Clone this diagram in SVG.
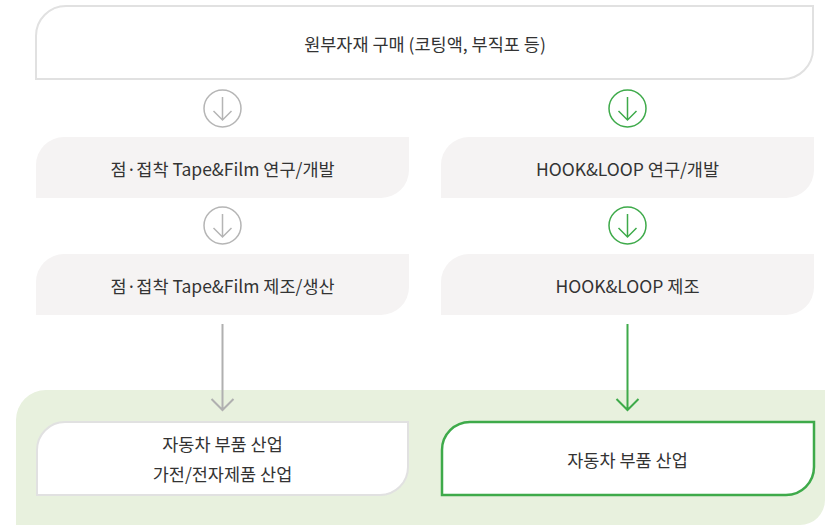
<svg xmlns="http://www.w3.org/2000/svg" width="825" height="525" viewBox="0 0 825 525">
<style>
text{font-family:"Noto Sans CJK KR","Noto Sans",sans-serif;font-size:17.5px;fill:#333;text-anchor:middle;dominant-baseline:central}
.white{fill:#fff;stroke:#e1e1e1;stroke-width:2}
.gray{fill:#f5f3f3}
.gbox{fill:#fff;stroke:#3eaa4a;stroke-width:2.5}
.cg{fill:none;stroke:#b5b5b5;stroke-width:1.5}
.cgr{fill:none;stroke:#3eaa4a;stroke-width:1.5}
.lg{fill:none;stroke:#b0b0b0;stroke-width:2}
.lgr{fill:none;stroke:#3eaa4a;stroke-width:2}
</style>
<rect width="825" height="525" fill="#fff"/>
<path d="M16,525 V420 A30,30 0 0 1 46,390 H825 V500 A25,25 0 0 1 800,525 Z" fill="#e8f1de"/>
<g id="n-top">
<path class="white" d="M36,79 V36 A30,30 0 0 1 66,6 H813 V49 A30,30 0 0 1 783,79 Z"/>
<text x="425" y="43">원부자재 구매 (코팅액, 부직포 등)</text>
</g>
<g id="n-l1">
<path class="gray" d="M36,198 V165 A28,28 0 0 1 64,137 H409 V170 A28,28 0 0 1 381,198 Z"/>
<text x="222.5" y="168">점·접착 Tape&amp;Film 연구/개발</text>
</g>
<g id="n-r1">
<path class="gray" d="M441,198 V165 A28,28 0 0 1 469,137 H814 V170 A28,28 0 0 1 786,198 Z"/>
<text x="627.5" y="168">HOOK&amp;LOOP 연구/개발</text>
</g>
<g id="n-l2">
<path class="gray" d="M36,315 V282 A28,28 0 0 1 64,254 H409 V287 A28,28 0 0 1 381,315 Z"/>
<text x="222.5" y="285">점·접착 Tape&amp;Film 제조/생산</text>
</g>
<g id="n-r2">
<path class="gray" d="M441,315 V282 A28,28 0 0 1 469,254 H814 V287 A28,28 0 0 1 786,315 Z"/>
<text x="627.5" y="285">HOOK&amp;LOOP 제조</text>
</g>
<g id="n-l3">
<path class="white" d="M37,495 V450 A28,28 0 0 1 65,422 H408 V467 A28,28 0 0 1 380,495 Z"/>
<text x="222.5" y="443">자동차 부품 산업</text>
<text x="222.5" y="473">가전/전자제품 산업</text>
</g>
<g id="n-r3">
<path class="gbox" d="M442,495 V450 A28,28 0 0 1 470,422 H814 V467 A28,28 0 0 1 786,495 Z"/>
<text x="627.5" y="459">자동차 부품 산업</text>
</g>
<g id="connectors">
<circle class="cg" cx="222.5" cy="108.5" r="18.5"/>
<path class="cg" d="M222.5,97 V120 M213.5,111 L222.5,120 L231.5,111"/>
<circle class="cgr" cx="627.5" cy="108.5" r="18.5"/>
<path class="cgr" d="M627.5,97 V120 M618.5,111 L627.5,120 L636.5,111"/>
<circle class="cg" cx="222.5" cy="225.5" r="18.5"/>
<path class="cg" d="M222.5,214 V237 M213.5,228 L222.5,237 L231.5,228"/>
<circle class="cgr" cx="627.5" cy="225.5" r="18.5"/>
<path class="cgr" d="M627.5,214 V237 M618.5,228 L627.5,237 L636.5,228"/>
<path class="lg" d="M222.5,324 V410 M211.5,399 L222.5,410 L233.5,399"/>
<path class="lgr" d="M627.5,324 V410 M616.5,399 L627.5,410 L638.5,399"/>
</g>
</svg>
